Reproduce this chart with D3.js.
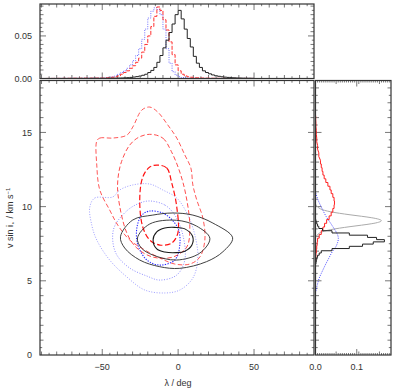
<!DOCTYPE html>
<html><head><meta charset="utf-8">
<script src="https://cdn.jsdelivr.net/npm/d3@7"></script>
<style>body{margin:0;background:#fff}svg{display:block}text{font-family:"Liberation Sans",Arial,sans-serif;fill:#333}</style>
</head><body><svg id="c" width="399" height="390"></svg>
<script>
// ---------- data ----------
const lamCenters = [-49,-47,-45,-43,-41,-39,-37,-35,-33,-31,-29,-27,-25,-23,-21,-19,-17,-15,-13,-11,-9,-7,-5,-3,-1,1,3,5,7,9,11,13,15,17,19,21,23,25,27,29,31,33,35,37,39,41,43,45,47,49];
const lamBlack = [0.0002,0.0002,0.0003,0.0003,0.0004,0.0005,0.0006,0.0008,0.001,0.0013,0.0017,0.0022,0.0029,0.0038,0.005,0.007,0.0095,0.013,0.019,0.027,0.036,0.045,0.054,0.064,0.075,0.080,0.070,0.058,0.047,0.037,0.026,0.018,0.013,0.009,0.007,0.0055,0.0042,0.0032,0.0026,0.002,0.0016,0.0013,0.001,0.0008,0.0006,0.0005,0.0004,0.0003,0.0003,0.0002];
const lamRed = [0.0005,0.0007,0.001,0.0015,0.002,0.003,0.005,0.007,0.009,0.012,0.015,0.019,0.024,0.031,0.040,0.050,0.061,0.073,0.084,0.080,0.069,0.057,0.043,0.028,0.016,0.009,0.005,0.003,0.002,0.0015,0.001,0.0008,0.0006,0.0005,0.0004,0.0004,0.0003,0.0003,0.0002,0.0002,0.0002,0.0001,0.0001,0.0001,0.0001,0.0001,0.0001,0.0001,0.0001,0.0001];
const lamBlue = [0.0005,0.001,0.0015,0.002,0.003,0.005,0.007,0.009,0.012,0.016,0.021,0.027,0.035,0.046,0.058,0.071,0.079,0.083,0.081,0.075,0.058,0.035,0.018,0.008,0.004,0.002,0.0012,0.0008,0.0005,0.0004,0.0003,0.0002,0.0002,0.0001,0.0001,0.0001,0.0001,0.0001,0.0001,0.0001,0.0001,0.0001,0.0001,0.0001,0.0001,0.0001,0.0001,0.0001,0.0001,0.0001];

const vBinCenters = [6.2,6.35,6.5,6.65,6.8,6.95,7.1,7.25,7.4,7.55,7.7,7.85,8.0,8.15,8.3,8.45,8.6,8.75,8.9,9.05];
const vBlack = [0.001,0.002,0.003,0.005,0.009,0.014,0.040,0.082,0.114,0.140,0.167,0.148,0.126,0.082,0.040,0.017,0.008,0.005,0.003,0.001];

const vGrey = [7.95,8.05,8.15,8.25,8.35,8.45,8.55,8.65,8.75,8.85,8.95,9.05,9.15,9.25,9.35,9.45,9.55,9.65,9.75,9.85,9.95,10.05,10.15];
const greyVals = [0.001,0.0028,0.006,0.011,0.021,0.036,0.058,0.083,0.112,0.138,0.155,0.162,0.155,0.138,0.112,0.083,0.058,0.036,0.021,0.011,0.006,0.0028,0.001];

const vRed = [6.5,6.75,7.0,7.25,7.5,7.75,8.0,8.25,8.5,8.75,9.0,9.25,9.5,9.75,10.0,10.25,10.5,10.75,11.0,11.25,11.5,11.75,12.0,12.25,12.5,12.75,13.0,13.5,14.0,14.5,15.0,15.5,16.0];
const redVals = [0.0005,0.001,0.002,0.003,0.004,0.005,0.009,0.014,0.018,0.022,0.027,0.033,0.038,0.042,0.045,0.046,0.045,0.042,0.038,0.035,0.030,0.025,0.021,0.018,0.016,0.014,0.012,0.008,0.005,0.003,0.002,0.001,0.0005];

const vBlue = [4.3,4.6,4.9,5.2,5.5,5.85,6.2,6.5,6.85,7.1,7.3,7.6,7.85,8.1,8.35,8.65,9.0,9.3,9.75,10.2,10.5,11.0];
const blueVals = [0.001,0.003,0.006,0.009,0.014,0.020,0.026,0.032,0.038,0.044,0.050,0.054,0.056,0.054,0.049,0.042,0.034,0.026,0.018,0.010,0.005,0.0];

// contours: [lambda, vsini]
const blackInner = [[-16.5,7.75],[-14.1,8.3],[-8.8,8.56],[-2.2,8.6],[4.4,8.5],[9.5,8.0],[9.0,7.4],[4.4,7.0],[-1.1,6.9],[-8.8,6.94],[-14.1,7.15]];
const blackMid = [[-26.8,7.88],[-18.7,8.83],[-1.1,9.08],[12.1,8.69],[20.9,7.86],[14.3,6.87],[-1.1,6.4],[-16.7,6.74],[-24.2,7.21]];
const blackOuter = [[-38.0,7.97],[-29.9,9.10],[-16.7,9.43],[-3.5,9.57],[9.7,9.43],[22.9,8.89],[35.9,7.90],[29.5,6.96],[18.7,6.29],[1.1,5.84],[-12.1,5.95],[-25.3,6.40],[-35.2,7.21]];
const redInner = [[-13.4,12.8],[-7.5,12.6],[-4.2,11.59],[-0.9,9.97],[-0.2,8.22],[-4.2,7.55],[-12.1,7.41],[-18.7,7.75],[-23.3,8.63],[-25.3,10.44],[-23.3,11.99],[-18.7,12.67]];
const redMid = [[-17.5,14.87],[-9.9,14.6],[-4.4,13.7],[1.1,12.33],[5.1,10.78],[7.7,8.63],[5.7,7.28],[-3.5,6.6],[-16.7,6.6],[-27.2,7.21],[-33.8,8.22],[-39.6,10.78],[-39.6,11.93],[-37.3,13.03],[-31.9,14.15],[-25.3,14.71]];
const redOuter = [[-53.6,14.42],[-51.6,14.62],[-43.1,14.62],[-33.8,14.82],[-29.9,15.36],[-23.9,16.51],[-18.7,16.71],[-13.4,16.37],[-6.8,15.5],[-0.9,14.62],[4.4,13.48],[8.4,12.6],[9.7,11.46],[12.3,10.44],[16.3,9.23],[17.6,7.75],[14.3,6.6],[7.7,6.13],[-2.2,6.13],[-12.1,6.54],[-22,7.08],[-31.9,7.75],[-39.8,8.76],[-45.1,9.77],[-51.6,11.12],[-53.6,12.8]];
const blueInner = [[-18.7,9.70],[-8.8,9.5],[-0.2,8.56],[1.1,7.41],[-2.2,6.4],[-12.1,6.06],[-20.6,6.4],[-26.5,7.41],[-27.2,8.56],[-23.9,9.43]];
const blueMid = [[-18.7,10.38],[-8.8,10.11],[-2.2,9.43],[3.1,8.09],[4.4,6.4],[-0.9,5.39],[-12.1,5.05],[-20.6,5.32],[-31.9,5.86],[-40.4,6.74],[-43.1,7.75],[-41.8,8.69],[-33.2,9.77],[-25.3,10.24]];
const blueOuter = [[-58.2,9.97],[-54.9,10.58],[-43.1,10.65],[-38.5,11.12],[-29.9,11.46],[-18.7,11.52],[-10.1,11.12],[-0.9,10.58],[6.4,9.43],[11,8.09],[13,6.54],[9.7,5.19],[1.1,4.38],[-8.8,4.18],[-22,4.38],[-33.8,5.26],[-45.1,6.4],[-53.6,7.75],[-56.9,8.76]];

const xTickLabels = [-50,0,50];
const yTickLabels = [0,5,10,15];
const topTickLabels = [0,0.05];
const rightTickLabels = [0,0.1];

// ---------- layout ----------
const svg = d3.select("#c");
const M = {x0:40, x1:314, y0:80.5, y1:355};
const T = {y0:4, y1:78.5};
const R = {x0:315.5, x1:391};
const x = d3.scaleLinear().domain([-91,89.5]).range([M.x0,M.x1]);
const y = d3.scaleLinear().domain([0,18.5]).range([M.y1,M.y0]);
const yT = d3.scaleLinear().domain([0,0.0875]).range([T.y1,T.y0]);
const xR = d3.scaleLinear().domain([0,0.183]).range([R.x0,R.x1]);

const defs = svg.append("defs");
function clip(id,x0,y0,x1,y1){defs.append("clipPath").attr("id",id).append("rect").attr("x",x0).attr("y",y0).attr("width",x1-x0).attr("height",y1-y0);}
clip("cm",M.x0,M.y0,M.x1,M.y1); clip("ct",M.x0,T.y0,M.x1,T.y1); clip("cr",R.x0,M.y0,R.x1,M.y1);

const tickCol="#555";
function ticksH(scale, vals, yb, yt, len){
  vals.forEach(v=>{const px=scale(v);
    svg.append("line").attr("x1",px).attr("x2",px).attr("y1",yb).attr("y2",yb-len).attr("stroke",tickCol).attr("stroke-width",0.8);
    svg.append("line").attr("x1",px).attr("x2",px).attr("y1",yt).attr("y2",yt+len).attr("stroke",tickCol).attr("stroke-width",0.8);});
}
function ticksV(scale, vals, xl, xr, len){
  vals.forEach(v=>{const py=scale(v);
    svg.append("line").attr("y1",py).attr("y2",py).attr("x1",xl).attr("x2",xl+len).attr("stroke",tickCol).attr("stroke-width",0.8);
    svg.append("line").attr("y1",py).attr("y2",py).attr("x1",xr).attr("x2",xr-len).attr("stroke",tickCol).attr("stroke-width",0.8);});
}
const near=(a,b)=>Math.abs(a-b)<1e-9;
const xMinor = d3.range(-90,90,5).filter(v=>v%50!==0);
[[M.y1,M.y0],[T.y1,T.y0]].forEach(([b,t])=>{
  ticksH(x, xMinor.filter(v=>v%10!==0), b,t,2.2);
  ticksH(x, xMinor.filter(v=>v%10===0), b,t,3.5);
  ticksH(x, [-50,0,50], b,t,6);
});
const yMinor = d3.range(0.5,18.5,0.5).filter(v=>v%5!==0);
[[M.x0,M.x1],[R.x0,R.x1]].forEach(([l,r])=>{
  ticksV(y, yMinor.filter(v=>v%1!==0), l,r,2.2);
  ticksV(y, yMinor.filter(v=>v%1===0), l,r,3.5);
  ticksV(y, [5,10,15], l,r,6);
});
const tMinor = d3.range(1,18).map(i=>i*0.005).filter(v=>!near(v,0.05));
ticksV(yT, tMinor.filter((v,i)=>(i+1)%2===1), M.x0,M.x1,2.2);
ticksV(yT, tMinor.filter((v,i)=>(i+1)%2===0), M.x0,M.x1,3.5);
ticksV(yT, [0.05], M.x0,M.x1,6);
const rMinor = d3.range(1,37).map(i=>i*0.005).filter(v=>!near(v,0.1));
ticksH(xR, rMinor.filter((v,i)=>(i+1)%10!==0), M.y1,M.y0,2);
ticksH(xR, rMinor.filter((v,i)=>(i+1)%10===0), M.y1,M.y0,3.5);
ticksH(xR, [0.1], M.y1,M.y0,6);

// ---------- histograms ----------
const gT = svg.append("g").attr("clip-path","url(#ct)");
function topHist(vals, stroke, dash, w){
  const pts=[[-91,0]];
  lamCenters.forEach((c,i)=>{pts.push([c-1,vals[i]]);pts.push([c+1,vals[i]]);});
  pts.push([50,0]); pts.push([89.5,0]);
  gT.append("path").attr("d",d3.line().x(d=>x(d[0])).y(d=>yT(d[1]))(pts))
    .attr("fill","none").attr("stroke",stroke).attr("stroke-width",w).attr("stroke-dasharray",dash);
}
topHist(lamBlue,"#7070ff","1,1.3",1);
topHist(lamRed,"#ff3030","4,1.5",1);
topHist(lamBlack,"#222",null,1);

const gR = svg.append("g").attr("clip-path","url(#cr)");
gR.append("path").attr("d",d3.line().x(d=>xR(d[1])).y(d=>y(d[0])).curve(d3.curveBasis)(vGrey.map((v,i)=>[v,greyVals[i]])))
  .attr("fill","none").attr("stroke","#aaaaaa").attr("stroke-width",1);
gR.append("path").attr("d",d3.line().x(d=>xR(d[1])).y(d=>y(d[0])).curve(d3.curveBasis)(vBlue.map((v,i)=>[v,blueVals[i]])))
  .attr("fill","none").attr("stroke","#4040ff").attr("stroke-width",1).attr("stroke-dasharray","1,1.3");
{const pts=[];vRed.forEach((v,i)=>{pts.push([v-0.125,redVals[i]]);pts.push([v+0.125,redVals[i]]);});
 gR.append("path").attr("d",d3.line().x(d=>xR(d[1])).y(d=>y(d[0]))(pts)).attr("fill","none").attr("stroke","#ff2020").attr("stroke-width",1);}
{const pts=[[0,0],[vBinCenters[0]-0.075,0]];vBinCenters.forEach((v,i)=>{pts.push([v-0.075,vBlack[i]]);pts.push([v+0.075,vBlack[i]]);});
 pts.push([vBinCenters[vBinCenters.length-1]+0.075,0]); pts.push([18.5,0]);
 gR.append("path").attr("d",d3.line().x(d=>xR(d[1])).y(d=>y(d[0]))(pts)).attr("fill","none").attr("stroke","#222").attr("stroke-width",1);}

// ---------- contours ----------
const gM = svg.append("g").attr("clip-path","url(#cm)");
const cl = d3.line().x(d=>x(d[0])).y(d=>y(d[1])).curve(d3.curveCatmullRomClosed.alpha(0.5));
function contour(pts, stroke, w, dash){gM.append("path").attr("d",cl(pts)).attr("fill","none").attr("stroke",stroke).attr("stroke-width",w).attr("stroke-dasharray",dash);}
contour(blueOuter,"#9393ff",0.9,"1,1.6");
contour(blueMid,"#8080ff",0.9,"1,1.6");
contour(blueInner,"#2a2aff",1.1,"1.3,1.3");
contour(redOuter,"#ff4545",0.9,"4.5,2.5");
contour(redMid,"#ff3838",0.9,"4.5,2.5");
contour(redInner,"#ff1010",1.2,"5.5,2.5");
contour(blackOuter,"#2a2a2a",0.9,null);
contour(blackMid,"#2a2a2a",0.9,null);
contour(blackInner,"#1a1a1a",1.1,null);

// ---------- frames ----------
function frame(x0,y0,x1,y1){svg.append("rect").attr("x",x0).attr("y",y0).attr("width",x1-x0).attr("height",y1-y0).attr("fill","none").attr("stroke","#333").attr("stroke-width",1.2);}
frame(M.x0,M.y0,M.x1,M.y1); frame(M.x0,T.y0,M.x1,T.y1); frame(R.x0,M.y0,R.x1,M.y1);

// ---------- labels ----------
const fs=9;
const fmtMinus = v=> (v<0?"\u2212":"")+Math.abs(v);
xTickLabels.forEach(v=>svg.append("text").attr("x",x(v)).attr("y",370).attr("text-anchor","middle").attr("font-size",fs).text(fmtMinus(v)));
yTickLabels.forEach(v=>svg.append("text").attr("x",32).attr("y",y(v)+3.2).attr("text-anchor","end").attr("font-size",fs).text(v));
topTickLabels.forEach(v=>svg.append("text").attr("x",32).attr("y",yT(v)+3.2).attr("text-anchor","end").attr("font-size",fs).text(v.toFixed(2)));
rightTickLabels.forEach(v=>svg.append("text").attr("x",xR(v)).attr("y",370).attr("text-anchor","middle").attr("font-size",fs).text(v.toFixed(1)));
svg.append("text").attr("x",x(0)).attr("y",386).attr("text-anchor","middle").attr("font-size",fs).text("\u03bb / deg");
const yl = svg.append("text").attr("transform",`translate(13,${(M.y0+M.y1)/2}) rotate(-90)`).attr("text-anchor","middle").attr("font-size",fs);
yl.append("tspan").text("v sin i");
yl.append("tspan").attr("font-size",5.5).attr("dy",1.5).text("\u22c6");
yl.append("tspan").attr("dy",-1.5).text(" / km s");
yl.append("tspan").attr("font-size",6).attr("dy",-3).text("\u22121");
</script></body></html>
